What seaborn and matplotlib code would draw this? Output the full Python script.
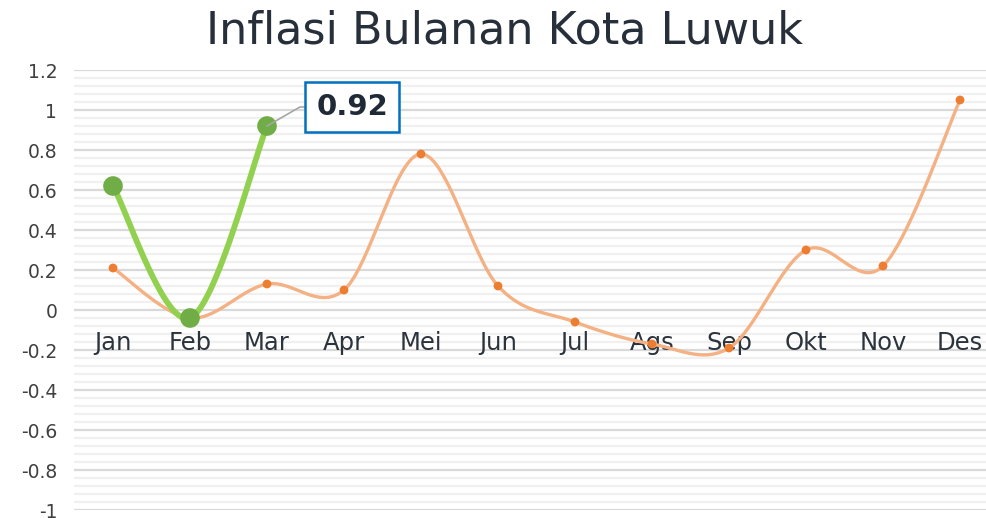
import numpy as np
import pandas as pd
import matplotlib
matplotlib.use("Agg")
import matplotlib.pyplot as plt
from matplotlib.ticker import MultipleLocator, FixedLocator
import seaborn as sns

months = ["Jan", "Feb", "Mar", "Apr", "Mei", "Jun", "Jul", "Ags", "Sep", "Okt", "Nov", "Des"]
prev_year = [0.21, -0.04, 0.13, 0.10, 0.78, 0.12, -0.06, -0.17, -0.19, 0.30, 0.22, 1.05]
curr_months = ["Jan", "Feb", "Mar"]
curr_year = [0.62, -0.04, 0.92]
y_ticks = [-1, -0.8, -0.6, -0.4, -0.2, 0, 0.2, 0.4, 0.6, 0.8, 1, 1.2]
y_tick_labels = ["-1", "-0.8", "-0.6", "-0.4", "-0.2", "0", "0.2", "0.4", "0.6", "0.8", "1", "1.2"]
title = "Inflasi Bulanan Kota Luwuk"
label_text = "0.92"


def smooth(xs, ys, n=40):
    """Excel-like smoothed line (Catmull-Rom Bezier) through the data points."""
    xs = np.asarray(xs, float)
    ys = np.asarray(ys, float)
    px = np.concatenate([[xs[0]], xs, [xs[-1]]])
    py = np.concatenate([[ys[0]], ys, [ys[-1]]])
    out_x, out_y = [], []
    t = np.linspace(0, 1, n)
    for i in range(1, len(px) - 2):
        p0 = np.array([px[i], py[i]])
        p3 = np.array([px[i + 1], py[i + 1]])
        c1 = p0 + (np.array([px[i + 1], py[i + 1]]) - np.array([px[i - 1], py[i - 1]])) / 6
        c2 = p3 - (np.array([px[i + 2], py[i + 2]]) - np.array([px[i], py[i]])) / 6
        b = ((1 - t) ** 3)[:, None] * p0 + (3 * (1 - t) ** 2 * t)[:, None] * c1 \
            + (3 * (1 - t) * t ** 2)[:, None] * c2 + (t ** 3)[:, None] * p3
        out_x.extend(b[:, 0])
        out_y.extend(b[:, 1])
    return np.array(out_x), np.array(out_y)


sns.set_theme(style="white")
plt.rcParams["font.family"] = ["DejaVu Sans"]

fig = plt.figure(figsize=(9.87, 5.18), dpi=100)
ax = fig.add_axes([74 / 987, 8 / 518, (987 - 74) / 987, 440 / 518])

x_prev = np.arange(len(months))
x_curr = np.array([months.index(m) for m in curr_months])

sx, sy = smooth(x_prev, prev_year)
sns.lineplot(x=sx, y=sy, sort=False, ax=ax, color="#f4b183", linewidth=2.4, zorder=3)
sns.scatterplot(x=x_prev, y=prev_year, ax=ax, color="#ed7d31", s=40, edgecolor="none", zorder=4)

cx, cy = smooth(x_curr, curr_year)
sns.lineplot(x=cx, y=cy, sort=False, ax=ax, color="#92d050", linewidth=4.2, zorder=5)
sns.scatterplot(x=x_curr, y=curr_year, ax=ax, color="#70ad47", s=200, edgecolor="none", zorder=6)

ax.set_xlim(-39 / 77, (987 - 113) / 77)
ax.set_ylim(-1, 1.2)
ax.yaxis.set_major_locator(FixedLocator(y_ticks))
ax.set_yticklabels(y_tick_labels)
ax.yaxis.set_minor_locator(MultipleLocator(0.04))
ax.grid(axis="y", which="major", color="#d9d9d9", linewidth=1.6)
ax.grid(axis="y", which="minor", color="#f0f0f0", linewidth=1.6)
ax.grid(axis="x", visible=False)
ax.set_axisbelow(True)

ax.set_xticks(x_prev)
ax.set_xticklabels(months)
ax.spines["bottom"].set_position(("data", 0))
for s in ax.spines.values():
    s.set_visible(False)
ax.xaxis.set_zorder(2)
ax.tick_params(axis="x", length=0, pad=15, labelsize=17.5, labelcolor="#2b333d")
ax.tick_params(axis="y", which="both", length=0, pad=12, labelsize=13.5, labelcolor="#404040")

ax.annotate(label_text, xy=(x_curr[-1], curr_year[-1]), xytext=(352, 411),
            textcoords="figure pixels", ha="center", va="center",
            fontsize=21, fontweight="bold", color="#1f2a36",
            bbox=dict(boxstyle="square,pad=0.38", fc="white", ec="#0070c0", lw=1.8),
            arrowprops=dict(arrowstyle="-", color="#a6a6a6", lw=1.2,
                            connectionstyle="angle,angleA=0,angleB=30,rad=0",
                            shrinkA=0, shrinkB=0),
            zorder=7)

fig.text(505 / 987, 1 - 31 / 518, title, ha="center", va="center", fontsize=32, color="#262f3a")

fig.savefig("out.png", dpi=100)
